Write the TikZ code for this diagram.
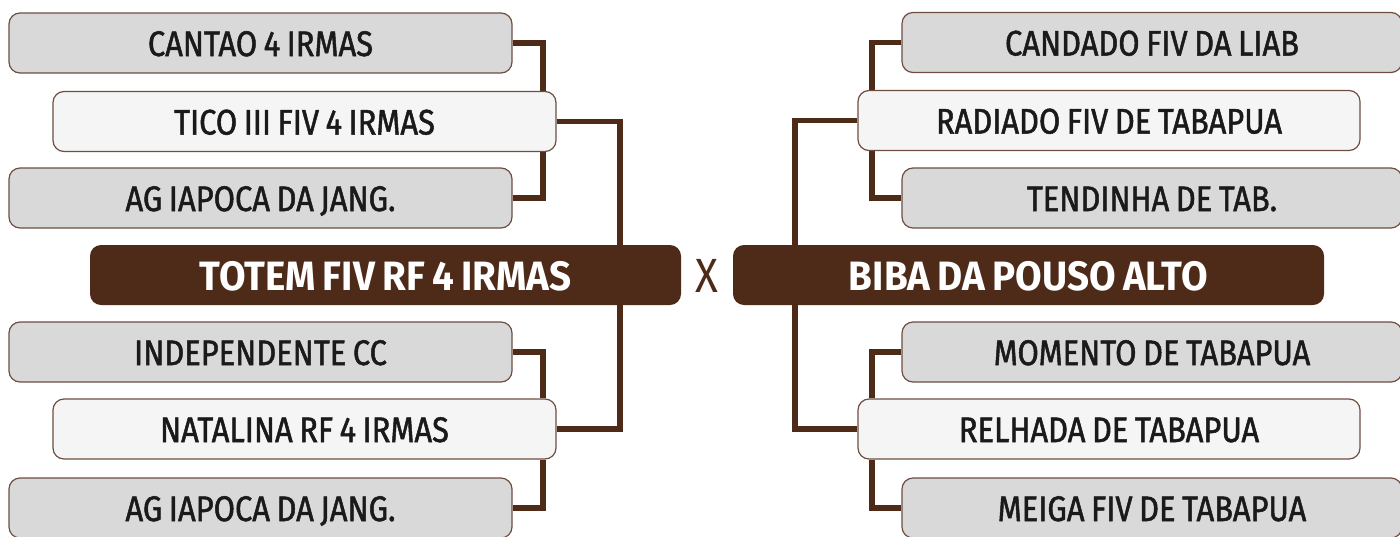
\documentclass[tikz,border=0pt]{standalone}
\usepackage{fontspec}
\setmainfont{Fira Sans}[FakeStretch=0.88]
\newfontfamily\boxfont{Fira Sans}[FakeStretch=0.87,FakeBold=1.4,WordSpace=0.8]
\newfontfamily\titlefont{Fira Sans}[FakeStretch=0.94,WordSpace=0.8]
\usetikzlibrary{backgrounds}
\definecolor{brn}{HTML}{4E2A19}
\definecolor{bordr}{HTML}{6E4E40}
\definecolor{grayfill}{HTML}{D9D9D9}
\definecolor{lightfill}{HTML}{F5F5F5}
\definecolor{txt}{HTML}{1A1A1A}
\tikzset{
  box/.style={draw=bordr, line width=1.2pt, rounded corners=11pt, inner sep=0pt,
    minimum height=60pt, text height=26pt, text depth=-2pt, text=txt,
    font=\boxfont\fontsize{35.5}{40}\selectfont, anchor=center},
  graybox/.style={box, fill=grayfill, minimum width=503pt},
  lightbox/.style={box, fill=lightfill, minimum width=503pt},
  mainbox/.style={fill=brn, rounded corners=11pt, inner sep=0pt, minimum width=591pt,
    minimum height=60pt, text height=30pt, text depth=-2pt, text=white,
    font=\titlefont\fontsize{41}{46}\selectfont\bfseries},
  conn/.style={draw=brn, line width=5.2pt}
}
\begin{document}
\begin{tikzpicture}[x=1pt,y=-1pt]
\useasboundingbox (0,0) rectangle (1400,536);
% left
\node[graybox]  (cantao) at (260.5,43)  {CANTAO 4 IRMAS};
\node[lightbox] (tico)   at (304.5,121.5) {TICO III FIV 4 IRMAS};
\node[graybox]  (agi1)   at (260.5,198) {AG IAPOCA DA JANG.};
\node[mainbox]  (totem)  at (385.5,275) {TOTEM FIV RF 4 IRMAS};
\node[graybox]  (indep)  at (260.5,352) {INDEPENDENTE CC};
\node[lightbox] (natal)  at (304.5,429) {NATALINA RF 4 IRMAS};
\node[graybox]  (agi2)   at (260.5,508) {AG IAPOCA DA JANG.};
% centre
\node[text=brn, inner sep=0pt, text height=33pt, text depth=0pt,
  font=\fontsize{48}{52}\selectfont] (vs) at (707,276) {X};
% right
\node[graybox, minimum width=500pt]  (candado)  at (1152,42.5) {CANDADO FIV DA LIAB};
\node[lightbox, minimum width=502pt] (radiado)  at (1109,120.5) {RADIADO FIV DE TABAPUA};
\node[graybox, minimum width=500pt]  (tendinha) at (1152,198) {TENDINHA DE TAB.};
\node[mainbox]  (biba)     at (1028.5,275) {BIBA DA POUSO ALTO};
\node[graybox, minimum width=500pt]  (momento)  at (1152,352) {MOMENTO DE TABAPUA};
\node[lightbox, minimum width=502pt] (relhada)  at (1109,429) {RELHADA DE TABAPUA};
\node[graybox, minimum width=500pt]  (meiga)    at (1152,508) {MEIGA FIV DE TABAPUA};
\coordinate (la) at (543,0);
\coordinate (lb) at (620,0);
\coordinate (ra) at (872,0);
\coordinate (rb) at (795,0);
\begin{scope}[on background layer]
\draw[conn] (cantao.east) -| (tico.north -| la);
\draw[conn] (agi1.east) -| (tico.south -| la);
\draw[conn] (tico.east) -| (totem.north -| lb);
\draw[conn] (natal.east) -| (totem.south -| lb);
\draw[conn] (indep.east) -| (natal.north -| la);
\draw[conn] (agi2.east) -| (natal.south -| la);
\draw[conn] (candado.west) -| (radiado.north -| ra);
\draw[conn] (tendinha.west) -| (radiado.south -| ra);
\draw[conn] (radiado.west) -| (biba.north -| rb);
\draw[conn] (relhada.west) -| (biba.south -| rb);
\draw[conn] (momento.west) -| (relhada.north -| ra);
\draw[conn] (meiga.west) -| (relhada.south -| ra);
\end{scope}
\end{tikzpicture}
\end{document}
